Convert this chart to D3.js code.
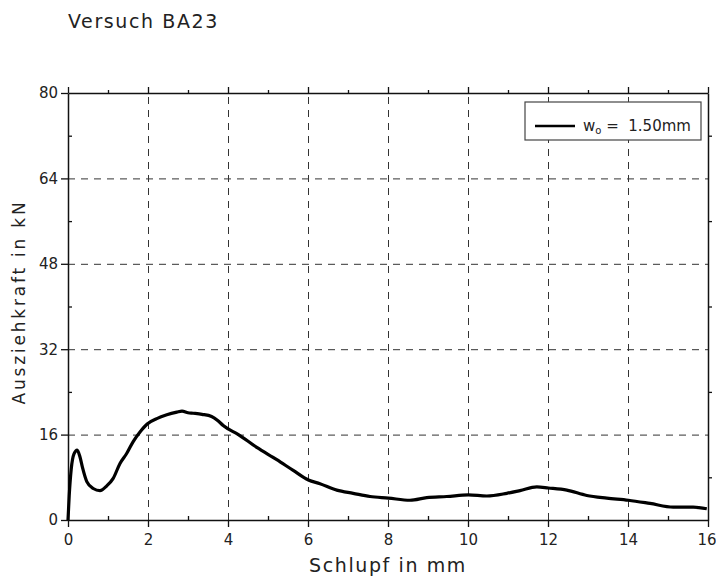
<!DOCTYPE html>
<html>
<head>
<meta charset="utf-8">
<script src="https://cdn.jsdelivr.net/npm/d3@7"></script>
<style>
  body { margin: 0; background: #fff; }
  text { font-family: "DejaVu Sans", sans-serif; fill: #222; }
</style>
</head>
<body>
<svg id="chart" width="716" height="576"></svg>
<script>
// Pull-out test BA23: slip (mm) against pull-out force (kN)
const slipMm = [0, 0.03, 0.08, 0.15, 0.23, 0.3, 0.36, 0.47, 0.63, 0.8, 0.97, 1.13, 1.3, 1.47, 1.63, 1.8, 1.98,
  2.22, 2.47, 2.72, 2.85, 3.0, 3.13, 3.35, 3.59, 3.75, 3.88, 4.26, 4.72, 5.22, 5.63, 6.01, 6.3, 6.72, 7.13, 7.55,
  8.01, 8.55, 8.97, 9.47, 10.01, 10.47, 10.97, 11.3, 11.72, 12.01, 12.47, 12.97, 13.47, 14.01, 14.55,
  15.13, 15.63, 15.97];
const forceKn = [0, 4.5, 9.5, 12.4, 13.1, 11.8, 9.9, 7.2, 5.9, 5.5, 6.4, 7.8, 10.6, 12.5, 14.7, 16.5, 18.0,
  19.0, 19.7, 20.2, 20.4, 20.1, 20.0, 19.8, 19.4, 18.6, 17.7, 16.0, 13.6, 11.3, 9.3, 7.5, 6.8, 5.6, 5.0, 4.4,
  4.1, 3.7, 4.2, 4.4, 4.7, 4.5, 5.0, 5.5, 6.2, 6.0, 5.6, 4.6, 4.1, 3.7, 3.1,
  2.4, 2.4, 2.1];

const xMajorTicks = [0, 2, 4, 6, 8, 10, 12, 14, 16];
const xMinorTicks = [1, 3, 5, 7, 9, 11, 13, 15];
const yMajorTicks = [0, 16, 32, 48, 64, 80];
const yMinorTicks = [8, 24, 40, 56, 72];
const xGridTicks = [2, 4, 6, 8, 10, 12, 14];
const yGridTicks = [16, 32, 48, 64];

const titleText = "Versuch BA23";
const xLabel = "Schlupf in mm";
const yLabel = "Ausziehkraft in kN";
const legendLabel = "w";
const legendSub = "o";
const legendRest = " =  1.50mm";

const svg = d3.select("#chart");
const plotLeft = 68, plotRight = 708, plotTop = 93, plotBottom = 520;

const x = d3.scaleLinear().domain([0, 16]).range([plotLeft, plotRight]);
const y = d3.scaleLinear().domain([0, 80]).range([plotBottom, plotTop]);

// dashed grid
const grid = svg.append("g").attr("class", "grid");
grid.append("g")
  .attr("transform", `translate(0,${plotBottom})`)
  .call(d3.axisBottom(x).tickValues(xGridTicks).tickSize(-(plotBottom - plotTop)).tickFormat(""))
  .call(g => g.select(".domain").remove());
grid.append("g")
  .attr("transform", `translate(${plotLeft},0)`)
  .call(d3.axisLeft(y).tickValues(yGridTicks).tickSize(-(plotRight - plotLeft)).tickFormat(""))
  .call(g => g.select(".domain").remove());
grid.selectAll("line")
  .attr("stroke", "#333")
  .attr("stroke-width", 1)
  .attr("stroke-dasharray", "7,6");

// frame axes
function styleAxis(g) {
  g.selectAll("path.domain").attr("stroke", "#111").attr("stroke-width", 1.5);
  g.selectAll(".tick line").attr("stroke", "#111").attr("stroke-width", 1.3);
  g.selectAll(".tick text").style("font-size", "15px").attr("fill", "#222");
}

svg.append("g")
  .attr("transform", `translate(0,${plotBottom})`)
  .call(d3.axisBottom(x).tickValues(xMajorTicks).tickSize(7).tickSizeOuter(0).tickPadding(7).tickFormat(d3.format("d")))
  .call(styleAxis)
  // the last label sits at the page edge: keep it inside
  .call(g => g.selectAll(".tick").filter(d => d === 16).select("text")
    .attr("text-anchor", "end").attr("x", 716 - plotRight));
svg.append("g")
  .attr("transform", `translate(0,${plotBottom})`)
  .call(d3.axisBottom(x).tickValues(xMinorTicks).tickSize(-4).tickFormat(""))
  .call(g => g.select(".domain").remove())
  .call(styleAxis);

svg.append("g")
  .attr("transform", `translate(0,${plotTop})`)
  .call(d3.axisTop(x).tickValues(xMajorTicks).tickSize(6).tickSizeOuter(0).tickFormat(""))
  .call(styleAxis);
svg.append("g")
  .attr("transform", `translate(0,${plotTop})`)
  .call(d3.axisTop(x).tickValues(xMinorTicks).tickSize(3).tickFormat(""))
  .call(g => g.select(".domain").remove())
  .call(styleAxis);

svg.append("g")
  .attr("transform", `translate(${plotLeft},0)`)
  .call(d3.axisLeft(y).tickValues(yMajorTicks).tickSize(7).tickSizeOuter(0).tickPadding(3).tickFormat(d3.format("d")))
  .call(styleAxis);
svg.append("g")
  .attr("transform", `translate(${plotLeft},0)`)
  .call(d3.axisLeft(y).tickValues(yMinorTicks).tickSize(-4).tickFormat(""))
  .call(g => g.select(".domain").remove())
  .call(styleAxis);

svg.append("g")
  .attr("transform", `translate(${plotRight},0)`)
  .call(d3.axisRight(y).tickValues(yMinorTicks).tickSize(4).tickSizeOuter(0).tickFormat(""))
  .call(styleAxis);

// measured curve
const points = slipMm.map((s, i) => [s, forceKn[i]]);
svg.append("path")
  .datum(points)
  .attr("fill", "none")
  .attr("stroke", "#000")
  .attr("stroke-width", 3.2)
  .attr("stroke-linejoin", "round")
  .attr("d", d3.line().x(d => x(d[0])).y(d => y(d[1])).curve(d3.curveMonotoneX));

// legend
const lg = svg.append("g");
lg.append("rect")
  .attr("x", 525).attr("y", 102).attr("width", 176).attr("height", 38)
  .attr("fill", "#fff").attr("stroke", "#444").attr("stroke-width", 1.2);
lg.append("line")
  .attr("x1", 535).attr("x2", 575).attr("y1", 126).attr("y2", 126)
  .attr("stroke", "#000").attr("stroke-width", 2.5);
const lt = lg.append("text").attr("x", 583).attr("y", 131).style("font-size", "15px");
lt.append("tspan").text(legendLabel);
lt.append("tspan").attr("dy", 3).style("font-size", "10px").text(legendSub);
lt.append("tspan").attr("dy", -3).style("white-space", "pre").text(legendRest);

// titles
svg.append("text")
  .attr("x", 68).attr("y", 28)
  .style("font-size", "19px").style("letter-spacing", "1.6px")
  .text(titleText);

svg.append("text")
  .attr("x", 388).attr("y", 572)
  .attr("text-anchor", "middle")
  .style("font-size", "19px").style("letter-spacing", "1.6px")
  .text(xLabel);

svg.append("text")
  .attr("transform", "translate(25,302) rotate(-90)")
  .attr("text-anchor", "middle")
  .style("font-size", "17px").style("letter-spacing", "2.8px")
  .text(yLabel);
</script>
</body>
</html>
